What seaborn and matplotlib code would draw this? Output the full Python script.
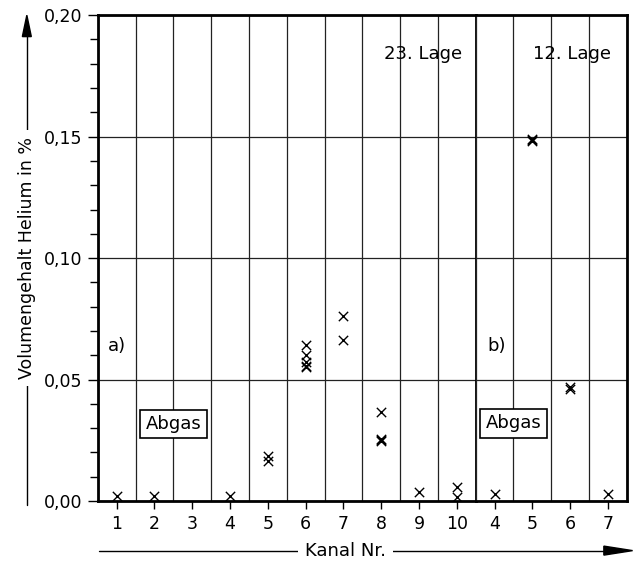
import pandas as pd
import matplotlib.pyplot as plt
import seaborn as sns
from matplotlib.ticker import FixedLocator, MultipleLocator

# 23. Lage (a): Kanal Nr. and Volumengehalt Helium in %
lage23_kanal = [1, 2, 4, 5, 5, 6, 6, 6, 6, 6, 7, 7, 8, 8, 8, 8, 9, 10, 10]
lage23_wert = [0.002, 0.002, 0.002, 0.0186, 0.0166, 0.0642, 0.0601, 0.0573, 0.0553,
               0.0558, 0.0761, 0.0661, 0.0365, 0.0256, 0.0251, 0.0246, 0.0036, 0.0059, 0.0018]

# 12. Lage (b)
lage12_kanal = [4, 5, 5, 5, 6, 6, 7]
lage12_wert = [0.003, 0.1491, 0.1486, 0.1481, 0.0468, 0.0462, 0.003]

kanal_a = list(range(1, 11))
kanal_b = [4, 5, 6, 7]
y_ticks = [0.0, 0.05, 0.10, 0.15, 0.20]
y_labels = ['0,00', '0,05', '0,10', '0,15', '0,20']

df_a = pd.DataFrame({'Kanal': lage23_kanal, 'Helium': lage23_wert})
df_b = pd.DataFrame({'Kanal': lage12_kanal, 'Helium': lage12_wert})

sns.set_style('white')
plt.rcParams['font.family'] = ['DejaVu Sans']
plt.rcParams['text.color'] = 'black'

fig, (ax1, ax2) = plt.subplots(1, 2, figsize=(6.39, 5.63), dpi=100, sharey=True,
                               gridspec_kw={'width_ratios': [10, 4], 'wspace': 0})
fig.subplots_adjust(left=0.153, right=0.981, top=0.973, bottom=0.110)

for ax, df, kanal, lo, hi in [(ax1, df_a, kanal_a, 0.5, 10.5), (ax2, df_b, kanal_b, 3.5, 7.5)]:
  sns.scatterplot(data=df, x='Kanal', y='Helium', marker='x', color='black',
                  s=45, linewidth=1.0, ax=ax, zorder=5)
  ax.set_xlim(lo, hi)
  ax.set_ylim(0, 0.20)
  ax.set_xticks(kanal)
  ax.set_xticklabels([str(k) for k in kanal], fontsize=12.5)
  # column separators at the half channels
  ax.xaxis.set_minor_locator(MultipleLocator(1, offset=0.5))
  ax.grid(which='minor', axis='x', color='#222222', linewidth=0.9)
  ax.grid(which='major', axis='y', color='#222222', linewidth=0.9)
  ax.tick_params(axis='x', which='major', direction='out', length=6, width=1,
                 bottom=True, pad=4, colors='black')
  ax.tick_params(axis='x', which='minor', length=0)
  ax.set_xlabel('')
  ax.set_ylabel('')
  for s in ax.spines.values():
    s.set_linewidth(2.0)
    s.set_color('black')

ax1.set_yticks(y_ticks)
ax1.set_yticklabels(y_labels, fontsize=12.5)
ax1.yaxis.set_minor_locator(FixedLocator([v / 100 for v in range(1, 20) if v % 5]))
ax1.tick_params(axis='y', which='both', direction='out', left=True, width=1, colors='black')
ax1.tick_params(axis='y', which='major', length=7, pad=4)
ax1.tick_params(axis='y', which='minor', length=6)
ax2.tick_params(axis='y', which='both', left=False, right=False)
ax2.spines['left'].set_visible(False)

# panel texts
ax1.text(9.1, 0.184, '23. Lage', fontsize=13, ha='center', va='center')
ax2.text(6.05, 0.184, '12. Lage', fontsize=13, ha='center', va='center')
ax1.text(1.0, 0.064, 'a)', fontsize=13, ha='center', va='center')
ax2.text(4.05, 0.064, 'b)', fontsize=13, ha='center', va='center')
box = dict(boxstyle='square,pad=0.3', facecolor='white', edgecolor='black', linewidth=1.2)
ax1.text(2.5, 0.0317, 'Abgas', fontsize=13, ha='center', va='center', bbox=box, zorder=6)
ax2.text(4.5, 0.032, 'Abgas', fontsize=13, ha='center', va='center', bbox=box, zorder=6)

# axis titles with long arrows
fig.add_artist(plt.Line2D([0.042, 0.042], [0.103, 0.94], color='black', linewidth=1.0))
fig.patches.append(plt.Polygon([[0.035, 0.935], [0.049, 0.935], [0.042, 0.973]],
                               closed=True, color='black', transform=fig.transFigure))
fig.text(0.042, 0.542, 'Volumengehalt Helium in %', rotation=90, fontsize=12.5,
         ha='center', va='center', bbox=dict(facecolor='white', edgecolor='none', pad=5))
fig.add_artist(plt.Line2D([0.155, 0.95], [0.022, 0.022], color='black', linewidth=1.0))
fig.patches.append(plt.Polygon([[0.945, 0.014], [0.945, 0.030], [0.99, 0.022]],
                               closed=True, color='black', transform=fig.transFigure))
fig.text(0.541, 0.022, 'Kanal Nr.', fontsize=13, ha='center', va='center',
         bbox=dict(facecolor='white', edgecolor='none', pad=5))

plt.savefig('out.png', dpi=100)
